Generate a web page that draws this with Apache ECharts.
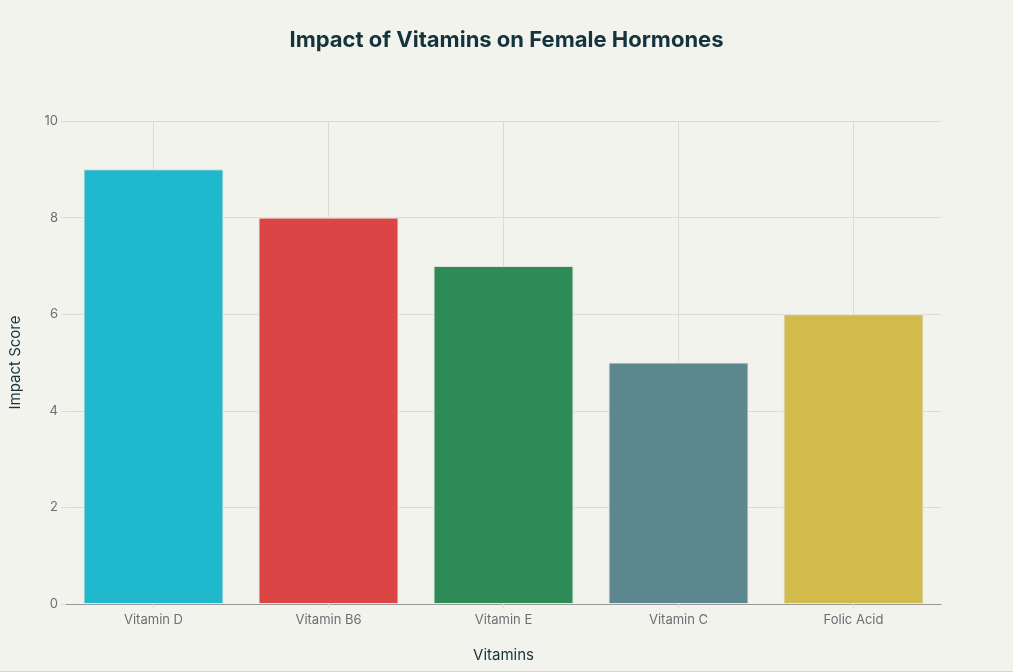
<!DOCTYPE html>
<html>
<head>
<meta charset="utf-8">
<script src="https://cdn.jsdelivr.net/npm/echarts@6/dist/echarts.min.js"></script>
<style>
* {margin: 0; padding: 0;}
body {background: #f3f3ee;}
#main {width: 1013px; height: 671px; border-bottom: 1px solid #d8d8d4;}
</style>
</head>
<body>
<div id="main"></div>
<script>
// 数据
const vitamins = ['Vitamin D', 'Vitamin B6', 'Vitamin E', 'Vitamin C', 'Folic Acid'];
const impactScores = [9, 8, 7, 5, 6];
const barColors = ['#1fb8cd', '#db4545', '#2e8b57', '#5d878f', '#d2ba4c'];

const FONT = 'Inter, "Open Sans", sans-serif';
const GRID_COLOR = '#dcdcd6';

const chart = echarts.init(document.getElementById('main'), null, {renderer: 'canvas'});
chart.setOption({
    backgroundColor: '#f3f3ee',
    textStyle: {fontFamily: FONT},
    title: {
        text: 'Impact of Vitamins on Female Hormones',
        left: 'center',
        top: 24,
        textStyle: {fontSize: 22, fontWeight: 'bold', color: '#13343b', fontFamily: FONT}
    },
    grid: {left: 64, right: 72, top: 121, bottom: 67, containLabel: false},
    xAxis: {
        type: 'category',
        data: vitamins,
        name: 'Vitamins',
        nameLocation: 'middle',
        nameGap: 44,
        nameTextStyle: {fontSize: 15, color: '#13343b'},
        axisLine: {lineStyle: {color: '#999', width: 1.2}},
        axisTick: {show: true, alignWithLabel: true, length: 4, lineStyle: {color: '#ddd'}},
        axisLabel: {fontSize: 13, color: '#6b6f73', margin: 10},
        splitLine: {show: false}
    },
    yAxis: {
        type: 'value',
        min: 0,
        max: 10,
        interval: 2,
        name: 'Impact Score',
        nameLocation: 'middle',
        nameGap: 43,
        nameTextStyle: {fontSize: 15, color: '#13343b'},
        axisLine: {show: false},
        axisTick: {show: true, length: 5, lineStyle: {color: '#ddd'}},
        axisLabel: {fontSize: 13, color: '#6b6f73', margin: 8},
        splitLine: {lineStyle: {color: GRID_COLOR, width: 1}}
    },
    series: [
        {
            // 竖向网格线：画在类目中心，放在柱子下面
            type: 'line',
            data: [],
            z: 1,
            silent: true,
            markLine: {
                z: 1,
                silent: true,
                symbol: 'none',
                label: {show: false},
                lineStyle: {color: GRID_COLOR, type: 'solid', width: 1},
                data: vitamins.map(v => ({xAxis: v}))
            }
        },
        {
            type: 'bar',
            z: 10,
            data: impactScores.map((v, i) => ({
                value: v,
                itemStyle: {color: barColors[i]}
            })),
            barCategoryGap: '20%',
            itemStyle: {borderColor: '#e8e8e2', borderWidth: 1}
        }
    ]
});
</script>
</body>
</html>
